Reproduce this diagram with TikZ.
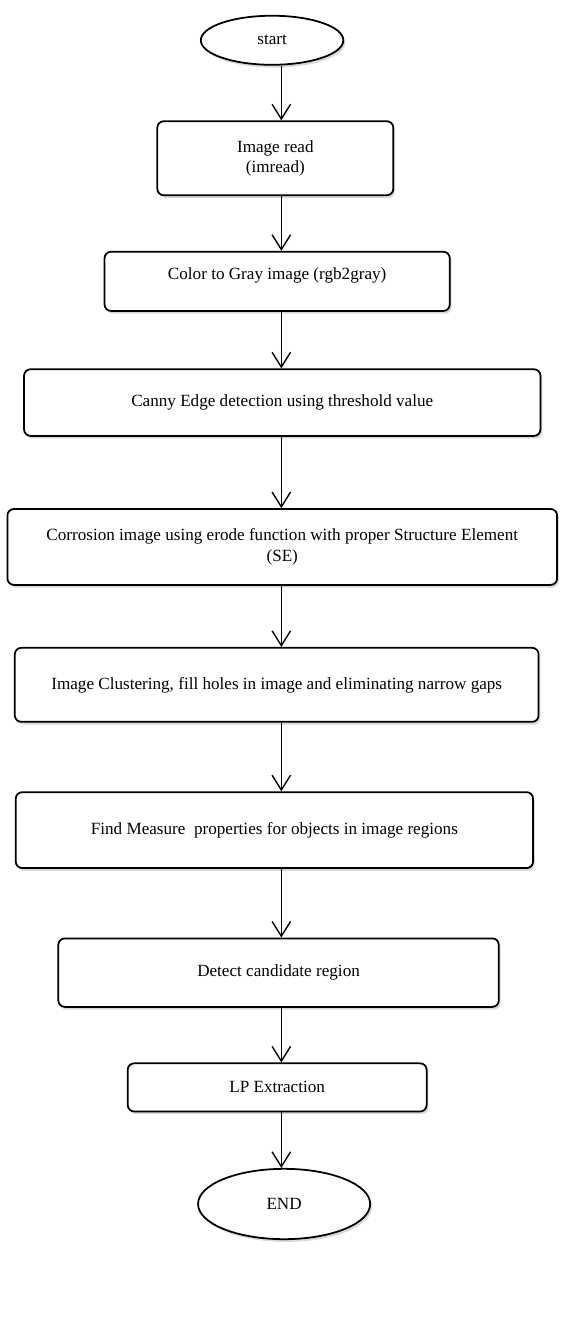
\documentclass[tikz,border=0pt]{standalone}
\usepackage{fontspec}
\setmainfont{Liberation Serif}
\usetikzlibrary{arrows.meta, shapes.geometric, shadows}

\begin{document}
\begin{tikzpicture}[x=1pt, y=-1pt,
    every node/.style={font=\fontsize{18.5}{22}\selectfont},
    stage/.style={draw, line width=1.9pt, rounded corners=7pt, fill=white, align=center, inner sep=0pt,
        drop shadow={shadow xshift=2pt, shadow yshift=-3pt, opacity=0.3}},
    terminal/.style={draw, ellipse, line width=1.9pt, fill=white, inner sep=0pt,
        drop shadow={shadow xshift=2pt, shadow yshift=-3pt, opacity=0.3}},
    flow/.style={line width=1.5pt, -{Straight Barb[length=16pt, width=20pt, line width=1.5pt]}}]
        \useasboundingbox (0,0) rectangle (630,1435);
        \clip (0,0) rectangle (630,1435);
        \coordinate (spine) at (304,0);

        \node[terminal, minimum width=154pt, minimum height=53pt] (start) at (294,43.5) {start};
        \node[stage, minimum width=255pt, minimum height=80pt] (read) at (297.5,171) {Image read\\(imread)};
        \node[stage, minimum width=373pt, minimum height=64pt, text depth=17pt] (gray) at (299.5,304) {Color to Gray image (rgb2gray)};
        \node[stage, minimum width=558pt, minimum height=72pt] (canny) at (305,435) {Canny Edge detection using threshold value};
        \node[stage, minimum width=594pt, minimum height=82pt] (erode) at (305,591) {Corrosion image using erode function with proper Structure Element\\(SE)};
        \node[stage, minimum width=566pt, minimum height=80pt] (cluster) at (299,740) {Image Clustering, fill holes in image and eliminating narrow gaps};
        \node[stage, minimum width=559pt, minimum height=82pt] (measure) at (296.5,897) {Find Measure\ \ properties for objects in image regions};
        \node[stage, minimum width=476pt, minimum height=74pt] (detect) at (301,1051) {Detect candidate region};
        \node[stage, minimum width=323pt, minimum height=52pt] (lp) at (299.5,1175) {LP Extraction};
        \node[terminal, minimum width=186pt, minimum height=76pt] (stop) at (307,1301) {END};

        \draw[flow] (start.south -| spine) -- (read.north -| spine);
        \draw[flow] (read.south -| spine) -- (gray.north -| spine);
        \draw[flow] (gray.south -| spine) -- (canny.north -| spine);
        \draw[flow] (canny.south -| spine) -- (erode.north -| spine);
        \draw[flow] (erode.south -| spine) -- (cluster.north -| spine);
        \draw[flow] (cluster.south -| spine) -- (measure.north -| spine);
        \draw[flow] (measure.south -| spine) -- (detect.north -| spine);
        \draw[flow] (detect.south -| spine) -- (lp.north -| spine);
        \draw[flow] (lp.south -| spine) -- (stop.north -| spine);
\end{tikzpicture}
\end{document}
